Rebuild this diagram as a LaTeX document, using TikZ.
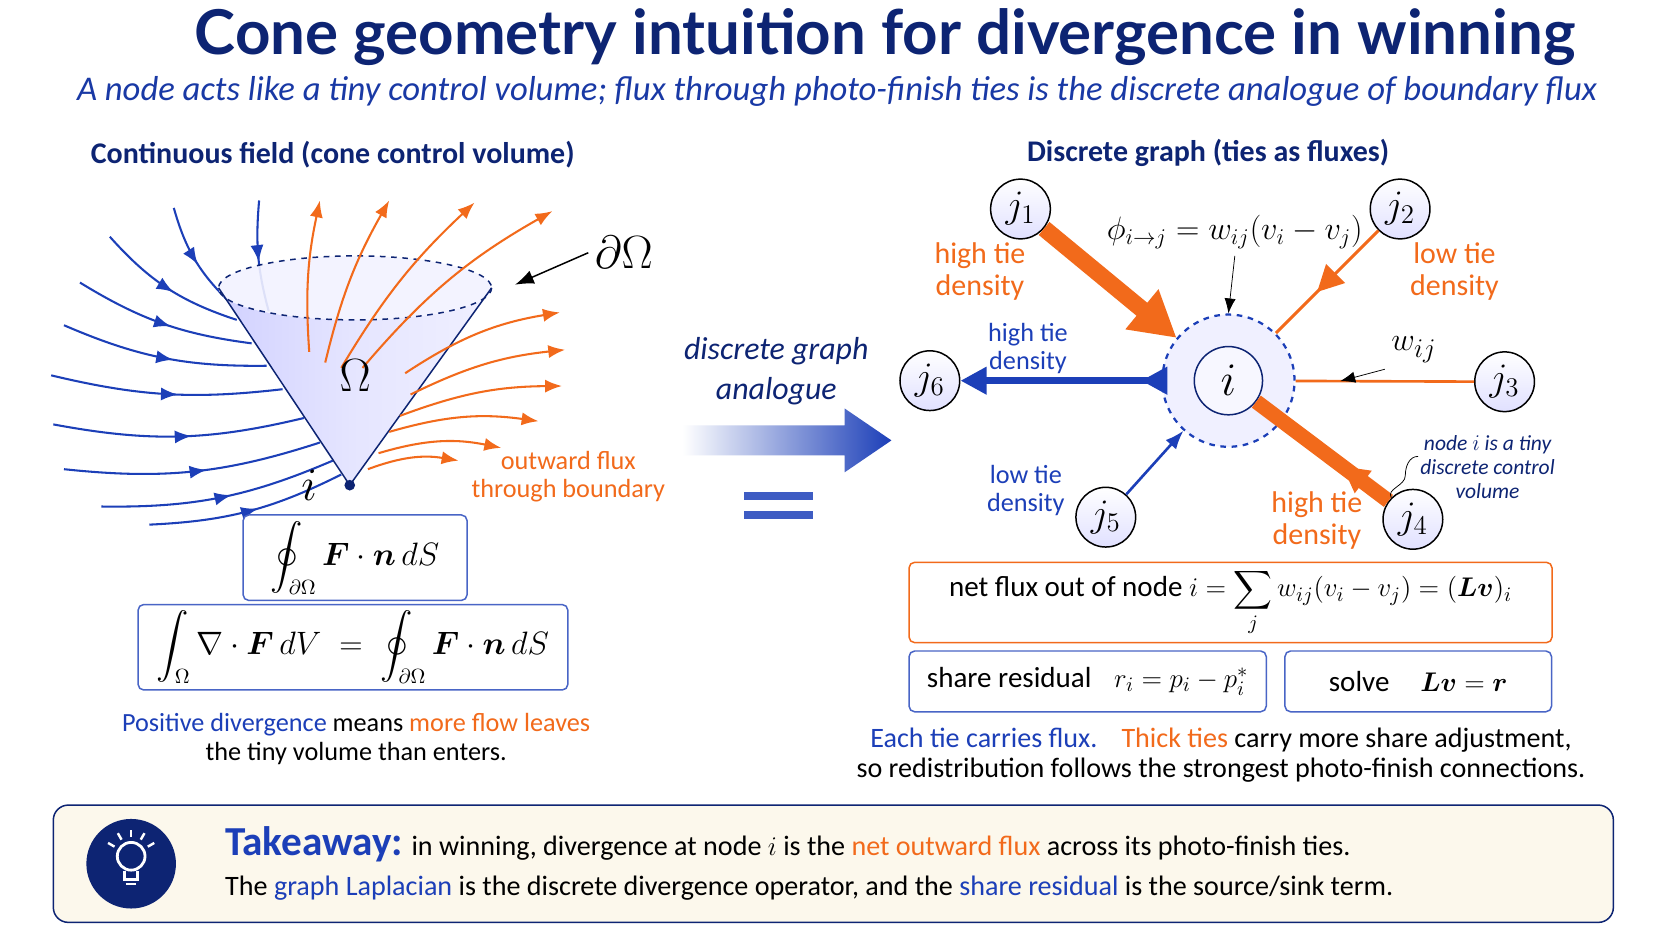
\documentclass[tikz,border=0pt]{standalone}
\usepackage{amsmath,bm}
\usepackage{fontspec}
\setmainfont{Carlito}
\newfontfamily\titlefont{Lato}
\usetikzlibrary{arrows.meta,decorations.markings,positioning,calc}
\definecolor{navy}{HTML}{0D2473}
\definecolor{fblue}{HTML}{1C3FB8}
\definecolor{forange}{HTML}{F26A1B}
\definecolor{cream}{HTML}{FCF8EC}
\tikzset{
  inflow/.style={fblue, line width=1.1pt, postaction={decorate},
    decoration={markings, mark=at position 0.55 with {\arrow{Latex[length=9pt,width=7pt]}}}},
  outflow/.style={forange, line width=1.1pt, -{Latex[length=9pt,width=7pt]}},
  gnode/.style={circle, draw=black, thick, minimum size=56*0.02cm, inner sep=0pt,
    top color=white, bottom color=blue!12, font=\fontsize{22}{24}\selectfont},
  eqbox/.style={draw=fblue!80, rounded corners=3pt, fill=white, thick},
  lbl/.style={align=center, font=\fontsize{14}{15}\selectfont, inner sep=1pt},
  midarrow/.style={postaction={decorate}, decoration={markings,
    mark=at position #1 with {\arrow{Triangle[length=14pt,width=14pt]}}}},
}
\begin{document}
\begin{tikzpicture}[x=0.02cm, y=-0.02cm]
\fill[white] (0,0) rectangle (1568,882);

% titles
\node[font=\titlefont\bfseries\fontsize{33}{38}\selectfont, text=navy] (title) at (830,35) {Cone geometry intuition for divergence in winning};
\node[font=\itshape\fontsize{18.5}{22}\selectfont, text=fblue!90!black] (subtitle) at (785,86) {A node acts like a tiny control volume; flux through photo-finish ties is the discrete analogue of boundary flux};
\node[font=\bfseries\fontsize{16}{18}\selectfont, text=navy] (lhead) at (312,145) {Continuous field (cone control volume)};
\node[font=\bfseries\fontsize{16}{18}\selectfont, text=navy] (rhead) at (1133,143) {Discrete graph (ties as fluxes)};

% incoming streamlines
\foreach \xa/\ya/\xb/\yb/\bd in {243/188/252/292/-10, 163/195/216/284/-15, 103/222/222/300/-15,
    75/265/236/322/-12, 60/305/250/343/-12, 48/352/265/365/-10, 50/398/285/392/-12,
    60/440/300/415/-12, 95/475/312/432/-12, 140/492/320/445/-12}
  \draw[inflow] (\xa,\ya) to[bend left=\bd] (\xb,\yb);

% cone
\shade[left color=blue!18, right color=blue!6, middle color=white!90!blue]
  (205,270) -- (328,455) -- (461,270) arc[start angle=0, end angle=180, x radius=128, y radius=30];
\fill[blue!5, opacity=0.9] (333,270) ellipse[x radius=128, y radius=30];
\draw[navy, thick] (205,270) -- (328,455) -- (461,270);
\draw[navy, thick, dashed] (333,270) ellipse[x radius=128, y radius=30];
\fill[navy] (328,455) circle (5);

% outgoing streamlines
\foreach \xa/\ya/\xb/\yb/\bd in {290/330/300/188/8, 305/340/365/188/8, 320/345/445/190/8,
    340/345/518/198/10, 380/350/525/293/12, 385/370/530/328/10, 375/390/527/362/10,
    365/405/505/395/12, 355/425/470/420/14, 345/440/430/432/15}
  \draw[outflow] (\xa,\ya) to[bend left=\bd] (\xb,\yb);

\node[font=\fontsize{26}{28}\selectfont] (omega) at (333,352) {$\Omega$};
\node[font=\fontsize{24}{26}\selectfont] (iapex) at (290,455) {$i$};
\node[font=\fontsize{24}{26}\selectfont] (bound) at (585,237) {$\partial\Omega$};
\coordinate (rimR) at (483,267);
\draw[-{Latex[length=10pt]}, thick] (bound.west) -- (rimR);
\node[lbl, text=forange] (outlbl) at (533,447) {outward flux\\through boundary};

% integral boxes
\node[eqbox, minimum width=210*0.02cm, minimum height=66*0.02cm, font=\fontsize{16}{19}\selectfont] (surf) at (333,523)
  {$\displaystyle\oint_{\partial\Omega} \bm{F}\cdot \bm{n}\, dS$};
\node[eqbox, minimum width=403*0.02cm, minimum height=78*0.02cm, font=\fontsize{16}{19}\selectfont] (gauss) at (331,607)
  {$\displaystyle\int_{\Omega} \nabla\cdot \bm{F}\, dV \;=\; \oint_{\partial\Omega} \bm{F}\cdot \bm{n}\, dS$};
\node[lbl] (posdiv) at (334,693) {\textcolor{fblue}{Positive divergence} means \textcolor{forange}{more flow leaves}\\the tiny volume than enters.};

% middle
\node[lbl, font=\itshape\fontsize{17}{21}\selectfont, text=navy] (analog) at (728,348) {discrete graph\\analogue};
\shade[left color=white, right color=fblue]
  (640,399) -- (792,399) -- (792,383) -- (836,413) -- (792,443) -- (792,427) -- (640,427) -- cycle;
\fill[fblue!85] (698,461) rectangle (762,469);
\fill[fblue!85] (698,479) rectangle (762,487);

% graph
\node[circle, draw=fblue, very thick, dashed, minimum size=124*0.02cm, fill=blue!6] (vol) at (1152,357) {};
\node[circle, draw=navy, thick, minimum size=64*0.02cm, fill=white!70!blue!10, font=\fontsize{28}{30}\selectfont] (i) at (1152,357) {$i$};
\node[gnode] (j1) at (957,196) {$j_1$};
\node[gnode] (j2) at (1313,196) {$j_2$};
\node[gnode] (j3) at (1411,358) {$j_3$};
\node[gnode] (j4) at (1325,487) {$j_4$};
\node[gnode] (j5) at (1037,485) {$j_5$};
\node[gnode] (j6) at (872,357) {$j_6$};

\draw[forange, line width=9pt, -{Triangle[length=24pt,width=26pt]}] (j1) -- (vol);
\draw[forange, line width=1.6pt, midarrow=0.6] (j2) -- (vol);
\draw[forange, line width=1.4pt] (vol) -- coordinate[pos=0.25] (wpt) (j3);
\draw[forange, line width=8pt, midarrow=0.35] (j4) -- (i);
\draw[fblue, line width=1.4pt, -{Latex[length=10pt]}] (j5) -- (vol);
\draw[fblue, line width=3.5pt, midarrow=0.1, -{Triangle[length=14pt,width=14pt]}] (vol) -- (j6);

\node[font=\fontsize{17}{20}\selectfont] (phi) at (1158,218) {$\phi_{i\to j} = w_{ij}(v_i - v_j)$};
\draw[-{Latex[length=8pt]}] (phi.south) -- (vol.north);
\node[font=\fontsize{19}{21}\selectfont] (wij) at (1326,328) {$w_{ij}$};
\draw[-{Latex[length=8pt]}] (wij.south west) -- (wpt);

\node[lbl, text=forange, font=\fontsize{16}{17}\selectfont] (l1) at (919,255) {high tie\\density};
\node[lbl, text=forange, font=\fontsize{16}{17}\selectfont] (l2) at (1364,255) {low tie\\density};
\node[lbl, text=fblue] (l6) at (964,327) {high tie\\density};
\node[lbl, text=fblue] (l5) at (962,460) {low tie\\density};
\node[lbl, text=forange, font=\fontsize{16}{17}\selectfont] (l4) at (1235,488) {high tie\\density};
\node[lbl, text=navy, font=\itshape\fontsize{11.5}{13}\selectfont] (l4b) at (1395,438) {node $i$ is a tiny\\discrete control\\volume};
\draw (l4b.west) ++(0,-10) to[out=180,in=90] ++(-12,18) to[out=-90,in=120] (j4.north west);

% formula boxes
\node[draw=forange, thick, rounded corners=3pt, fill=white, minimum width=603*0.02cm, minimum height=73*0.02cm, font=\fontsize{15.5}{19}\selectfont] (netflux) at (1154,565)
  {net flux out of node $i = \displaystyle\sum_j w_{ij}(v_i - v_j) = (\bm{L}\bm{v})_i$};
\node[eqbox, minimum width=335*0.02cm, minimum height=57*0.02cm, font=\fontsize{15.5}{19}\selectfont] (resid) at (1020,639)
  {share residual\;\; $r_i = p_i - p_i^{*}$};
\node[eqbox, minimum width=250*0.02cm, minimum height=57*0.02cm, font=\fontsize{15.5}{19}\selectfont] (solve) at (1330,639)
  {solve\;\;\; $\bm{L}\bm{v} = \bm{r}$};
\node[lbl, font=\fontsize{15}{16}\selectfont] (carry) at (1145,708)
  {\textcolor{fblue}{Each tie carries flux.}\;\; \textcolor{forange}{Thick ties} carry more share adjustment,\\so redistribution follows the strongest photo-finish connections.};

% takeaway
\draw[navy, thick, fill=cream, rounded corners=8pt] (50,755) rectangle (1513,865);
\node[circle, fill=navy, minimum size=84*0.02cm] (bulb) at (123,810) {};
\draw[white, line width=1.5pt] (123,803) circle (13);
\draw[white, line width=1.5pt] (117,817) -- (117,825) -- (129,825) -- (129,817);
\draw[white, line width=1.2pt] (118,829) -- (128,829);
\foreach \a in {-150,-120,-90,-60,-30}
  \draw[white, line width=1.3pt] ($(123,803)+(\a:18)$) -- ($(123,803)+(\a:25)$);
\node[anchor=west, font=\fontsize{15}{17}\selectfont] (take1) at (205,792)
  {{\fontsize{22}{24}\selectfont\bfseries\textcolor{fblue}{Takeaway:}} in winning, divergence at node $i$ is the \textcolor{forange}{net outward flux} across its photo-finish ties.};
\node[anchor=west, font=\fontsize{15}{17}\selectfont] (take2) at (205,833)
  {The \textcolor{fblue}{graph Laplacian} is the discrete divergence operator, and the \textcolor{fblue}{share residual} is the source/sink term.};

\pgfresetboundingbox
\useasboundingbox (0,0) rectangle (1568,882);
\end{tikzpicture}
\end{document}
